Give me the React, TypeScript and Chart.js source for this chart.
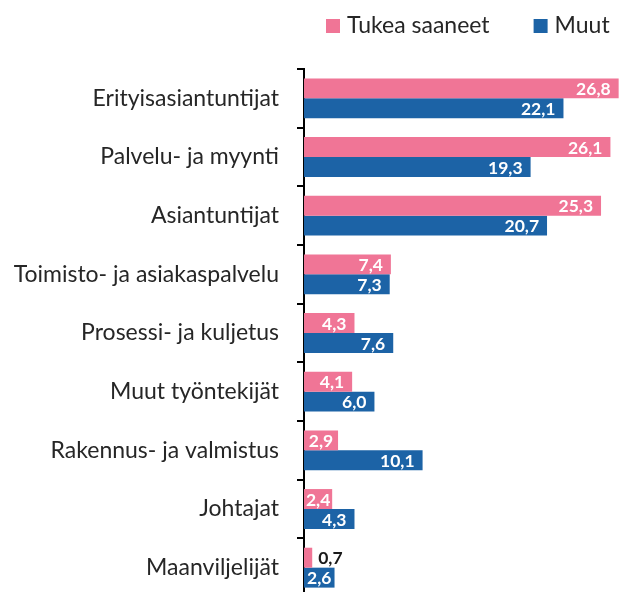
import React, { useEffect, useRef } from 'react';
import { Chart, registerables } from 'chart.js';

Chart.register(...registerables);

const categories = [
  'Erityisasiantuntijat',
  'Palvelu- ja myynti',
  'Asiantuntijat',
  'Toimisto- ja asiakaspalvelu',
  'Prosessi- ja kuljetus',
  'Muut työntekijät',
  'Rakennus- ja valmistus',
  'Johtajat',
  'Maanviljelijät',
];
const tukeaSaaneet = [26.8, 26.1, 25.3, 7.4, 4.3, 4.1, 2.9, 2.4, 0.7];
const muut = [22.1, 19.3, 20.7, 7.3, 7.6, 6.0, 10.1, 4.3, 2.6];
const seriesNames = ['Tukea saaneet', 'Muut'];
const seriesColors = ['#F07596', '#1C63A6'];
const xMax = 27;

const FONT = 'Lato, "Liberation Sans", sans-serif';

const fmt = (v: number) => v.toFixed(1).replace('.', ',');

const valueLabels = {
  id: 'valueLabels',
  afterDatasetsDraw(chart: any) {
    const ctx = chart.ctx;
    ctx.save();
    ctx.font = `bold 17.5px ${FONT}`;
    ctx.textBaseline = 'middle';
    chart.data.datasets.forEach((ds: any, di: number) => {
      const meta = chart.getDatasetMeta(di);
      meta.data.forEach((bar: any, i: number) => {
        const v = ds.data[i] as number;
        const t = fmt(v);
        const tw = ctx.measureText(t).width;
        const barW = bar.x - bar.base;
        if (barW >= tw + 2) {
          const pad = Math.min(8, (barW - tw) / 2);
          ctx.fillStyle = '#ffffff';
          ctx.textAlign = 'right';
          ctx.fillText(t, bar.x - pad, bar.y + 1);
        } else {
          ctx.fillStyle = '#1a1a1a';
          ctx.textAlign = 'left';
          ctx.fillText(t, bar.x + 6, bar.y + 1);
        }
      });
    });
    ctx.restore();
  },
};

const customLegend = {
  id: 'customLegend',
  afterDraw(chart: any) {
    const ctx = chart.ctx;
    ctx.save();
    ctx.font = `23px ${FONT}`;
    ctx.textBaseline = 'middle';
    ctx.textAlign = 'left';
    let x = 326;
    const y = 26;
    chart.data.datasets.forEach((ds: any) => {
      ctx.fillStyle = ds.backgroundColor;
      ctx.fillRect(x, y - 7, 14, 14);
      ctx.fillStyle = '#262626';
      ctx.fillText(ds.label, x + 21, y);
      x += 21 + ctx.measureText(ds.label).width + 44;
    });
    ctx.restore();
  },
};

export default function App() {
  const canvasRef = useRef<HTMLCanvasElement | null>(null);

  useEffect(() => {
    if (!canvasRef.current) return;
    const chart = new Chart(canvasRef.current, {
      type: 'bar',
      data: {
        labels: categories,
        datasets: [
          { label: seriesNames[0], data: tukeaSaaneet, backgroundColor: seriesColors[0], borderWidth: 0 },
          { label: seriesNames[1], data: muut, backgroundColor: seriesColors[1], borderWidth: 0 },
        ],
      },
      options: {
        indexAxis: 'y',
        animation: false,
        responsive: false,
        devicePixelRatio: 1,
        events: [],
        layout: { padding: { top: 69, bottom: 3, left: 0, right: 3 } },
        datasets: { bar: { categoryPercentage: 0.68, barPercentage: 1.0 } },
        plugins: { legend: { display: false }, tooltip: { enabled: false } },
        scales: {
          x: { display: false, min: 0, max: xMax },
          y: {
            grid: {
              display: true,
              drawOnChartArea: false,
              drawTicks: true,
              tickLength: 7,
              color: '#000',
              lineWidth: 2,
              offset: true,
            },
            border: { display: true, color: '#000', width: 2 },
            ticks: {
              color: '#262626',
              font: { family: FONT, size: 23 },
              padding: 18,
              autoSkip: false,
            },
            afterFit: (s: any) => {
              s.width = 304;
              s.paddingTop = 0;
              s.paddingBottom = 0;
            },
          },
        },
      },
      plugins: [valueLabels, customLegend],
    });
    return () => chart.destroy();
  }, []);

  return (
    <div style={{ position: 'fixed', left: 0, top: 0, width: 624, height: 600, background: '#fff' }}>
      <canvas ref={canvasRef} width={624} height={600} style={{ display: 'block', width: 624, height: 600 }} />
    </div>
  );
}
